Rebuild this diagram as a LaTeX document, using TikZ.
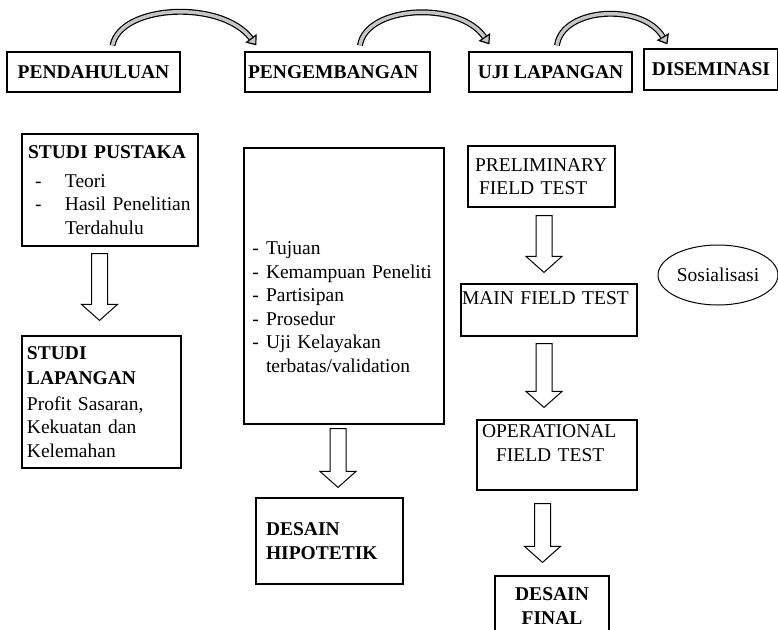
\documentclass[tikz,border=0pt]{standalone}
\usepackage{fontspec}
\setmainfont{Liberation Serif}
\usetikzlibrary{calc,arrows.meta,shapes.geometric}

\tikzset{
  kotak/.style={draw, line width=1.2pt, inner sep=#1,
    font=\fontsize{19.5}{23.5}\selectfont},
  kotak/.default=5pt,
  panahblok/.style={draw, line width=1pt, fill=white},
  lengkung/.style={line width=1.2pt, double=gray!45, double distance=3.5pt,
    -{Triangle[width=14pt,length=9pt,fill=gray!45]}}
}

% panah blok ke bawah: #1 pangkal, #2 ujung (hanya y)
\newcommand{\panahbawah}[2]{%
  \draw[panahblok] let \p1=#1, \p2=#2 in
    (\x1-8pt,\y1) -- (\x1+8pt,\y1) -- (\x1+8pt,\y2+16pt) -- (\x1+18pt,\y2+16pt)
    -- (\x1,\y2) -- (\x1-18pt,\y2+16pt) -- (\x1-8pt,\y2+16pt) -- cycle;}

\newcommand{\strip}{\makebox[17pt][l]{\,-}}

\begin{document}
\begin{tikzpicture}[x=1pt,y=-1pt]
  \useasboundingbox (0,0) rectangle (778,629);
  \clip (0,0) rectangle (778,629);

  % Baris atas
  \node[kotak, minimum width=173pt, minimum height=40pt] (pend) at (93.5,72) {\textbf{PENDAHULUAN}};
  \node[kotak=3pt, minimum width=185pt, minimum height=40pt, text width=179pt, align=left] (peng) at (337.5,72) {\textbf{PENGEMBANGAN}};
  \node[kotak, minimum width=163pt, minimum height=40pt] (uji) at (550.5,72) {\textbf{UJI LAPANGAN}};
  \node[kotak, minimum width=134pt, minimum height=41pt] (dis) at (711,69.5) {\textbf{DISEMINASI}};

  % Panah lengkung
  \draw[lengkung] ([xshift=19pt,yshift=6pt]pend.north) .. controls +(8,-41) and +(-35,-46) .. ([xshift=12pt,yshift=6pt]peng.north west);
  \draw[lengkung] ([xshift=22.5pt,yshift=6pt]peng.north) .. controls +(6,-40) and +(-30,-44) .. ([xshift=21pt,yshift=7pt]uji.north west);
  \draw[lengkung] ([xshift=6.5pt,yshift=6pt]uji.north) .. controls +(5,-38) and +(-25,-42) .. ([xshift=24pt,yshift=4pt]dis.north west);

  % Kolom pendahuluan
  \node[kotak=6pt, minimum width=176pt, minimum height=112pt, text width=164pt, align=left] (pust) at (110,190)
    {\textbf{STUDI PUSTAKA}\\[5pt]
     \makebox[37pt][l]{\hspace{7pt}-}Teori\\
     \makebox[37pt][l]{\hspace{7pt}-}Hasil Penelitian\\
     \hspace*{37pt}Terdahulu};
  \node[kotak, minimum width=159pt, minimum height=132pt, text width=149pt, align=left] (lap) at (101.5,402)
    {\textbf{STUDI}\\[2pt] \textbf{LAPANGAN}\\[2pt] Profit Sasaran,\\ Kekuatan dan\\ Kelemahan};
  \panahbawah{([xshift=-10.5pt,yshift=-7pt]pust.south)}{([yshift=15pt]lap.north)}

  % Kolom pengembangan
  \node[kotak, minimum width=200pt, minimum height=276pt, text width=190pt, align=left] (rinci) at (344,286)
    {\mbox{}\\ \mbox{}\\[8pt]
     \strip Tujuan\\
     \strip Kemampuan Peneliti\\
     \strip Partisipan\\
     \strip Prosedur\\
     \strip Uji Kelayakan\\
     \hspace*{17pt}terbatas/validation};
  \node[kotak=10pt, minimum width=147pt, minimum height=86pt, text width=127pt, align=left] (hipo) at (329.5,541)
    {\textbf{DESAIN}\\ \textbf{HIPOTETIK}};
  \panahbawah{([xshift=-6pt,yshift=-4pt]rinci.south)}{([yshift=10pt]hipo.north)}

  % Kolom uji lapangan
  \node[kotak=7pt, minimum width=147pt, minimum height=61pt, text width=133pt, align=left] (pre) at (541.5,176.5)
    {PRELIMINARY\\ \hspace*{4pt}FIELD TEST};
  \node[kotak=1pt, minimum width=176pt, minimum height=52pt, text width=174pt, align=left] (main) at (549,310)
    {MAIN FIELD TEST\\ \mbox{}};
  \node[kotak, minimum width=160pt, minimum height=68pt, text width=150pt, align=left] (oper) at (557,455)
    {OPERATIONAL\\ \hspace*{14pt}FIELD TEST\\ \mbox{}};
  \node[kotak, minimum width=114pt, minimum height=60pt, align=center] (final) at (552,606)
    {\textbf{DESAIN}\\ \textbf{FINAL}};
  \panahbawah{([xshift=2.5pt,yshift=-8pt]pre.south)}{([yshift=11pt]main.north)}
  \panahbawah{([xshift=-5pt,yshift=-7pt]main.south)}{([yshift=12pt]oper.north)}
  \panahbawah{([xshift=-14.5pt,yshift=-13pt]oper.south)}{([yshift=13pt]final.north)}

  % Diseminasi
  \node[ellipse, draw, line width=1pt, minimum width=120pt, minimum height=60pt, inner sep=0pt,
    font=\fontsize{19.5}{23.5}\selectfont] (sos) at (718,275) {Sosialisasi};
\end{tikzpicture}
\end{document}
